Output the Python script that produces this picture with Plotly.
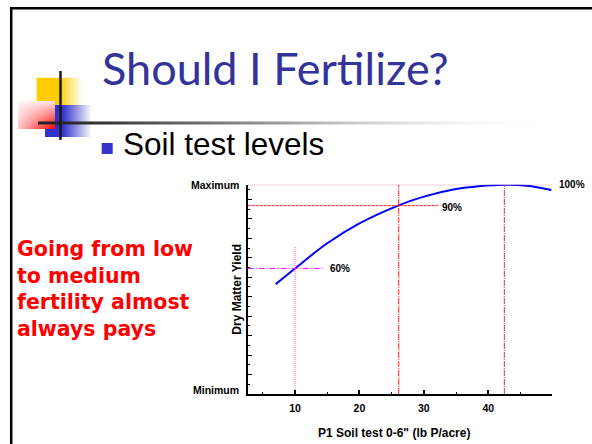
import plotly.graph_objects as go

# P soil test (lb P/acre) vs relative dry matter yield (% of maximum)
soil_p = [7, 10, 15, 20, 26, 30, 35, 38.5, 42.5, 46, 49.8]
yield_pct = [52.5, 60, 72, 81.5, 90, 94.3, 97.9, 99.3, 100, 99.5, 97.5]

# guide lines: yield level, soil test where it is reached, how far each line runs
ref_pct = [60, 90, 100]
ref_soil = [10, 26.1, 42.5]
ref_hline_end = [14.4, 32.2, 49.9]
ref_vline_top = [70.7, 100, 100]
ref_labels = ["60%", "90%", "100%"]
ref_label_x = [15.1, 32.5, 50.7]
ref_label_y = [60, 89, 100]

x_tick_labels = ["10", "20", "30", "40"]
y_end_labels = ["Minimum", "Maximum"]
y_end_vals = [0, 100]

title_text = "Should I Fertilize?"
bullet_text = "Soil test levels"
side_note = ["Going from low", "to medium", "fertility almost", "always pays"]

W, H = 592, 444
X_RANGE = [2.65, 49.9]
X_DOM = [247.7 / W, 552 / W]
BOLD = dict(family="Liberation Sans, Arial, sans-serif", color="black", weight="bold")

fig = go.Figure()

# ---- slide decorations on a pixel-coordinate overlay axis
def box(x0, x1, y0, y1):
    return [x0, x1, x1, x0, x0], [y0, y0, y1, y1, y0]

deco = [
    # (x0, x1, y0, y1, gradient type, colorscale)
    (36.7, 82, 77.7, 106, "horizontal",
     [[0, "#FFCC00"], [0.5, "#FFCC00"], [1, "rgba(255,204,0,0)"]]),
    (45, 92, 105, 137, "horizontal",
     [[0, "#3333CC"], [0.38, "#3333CC"], [1, "rgba(51,51,204,0)"]]),
    (18, 55, 101, 129, "horizontal",
     [[0, "rgb(255,200,200)"], [1, "#FF0000"]]),
    (18, 55, 101, 129, "vertical",
     [[0, "rgba(255,255,255,0)"], [1, "rgba(255,255,255,0.88)"]]),
    (38, 563, 121.6, 124.6, "horizontal",
     [[0, "#222222"], [0.12, "#333333"], [0.5, "#aaaaaa"], [1, "rgba(255,255,255,0)"]]),
]
for x0, x1, y0, y1, gtype, cs in deco:
    bx, by = box(x0, x1, y0, y1)
    fig.add_trace(go.Scatter(
        x=bx, y=by, xaxis="x2", yaxis="y2", mode="lines", line=dict(width=0),
        fill="toself", fillgradient=dict(type=gtype, colorscale=cs),
        hoverinfo="skip", showlegend=False,
    ))

# ---- curve and guide lines
fig.add_trace(go.Scatter(
    x=soil_p, y=yield_pct, mode="lines", line=dict(color="#0000FF", width=2, shape="spline"),
    showlegend=False,
))

h_styles = [("#FF00FF", "6px,2px,1px,2px"), ("#FF2020", "3px,1px"), ("#B03030", "1px,1px")]
v_styles = [("#FF40FF", "1px,1px"), ("#FF2020", "6px,1px,1px,1px"), ("#B04848", "6px,1px,1px,1px")]


def x_paper(v):
    return X_DOM[0] + (v - X_RANGE[0]) / (X_RANGE[1] - X_RANGE[0]) * (X_DOM[1] - X_DOM[0])


for i, p in enumerate(ref_pct):
    fig.add_trace(go.Scatter(
        x=[X_RANGE[0], ref_hline_end[i]], y=[p, p], mode="lines",
        line=dict(color=h_styles[i][0], width=1, dash=h_styles[i][1]), showlegend=False,
    ))
    fig.add_trace(go.Scatter(
        x=[ref_soil[i], ref_soil[i]], y=[0, ref_vline_top[i]], mode="lines",
        line=dict(color=v_styles[i][0], width=1, dash=v_styles[i][1]), showlegend=False,
    ))
    fig.add_annotation(x=x_paper(ref_label_x[i]), xref="paper", y=ref_label_y[i], yref="y",
                       text=ref_labels[i], showarrow=False,
                       xanchor="left", yanchor="middle", font=dict(BOLD, size=10))

# y end labels
for val, lab, shift in zip(y_end_vals, y_end_labels, [4, 0]):
    fig.add_annotation(x=241 / W, xref="paper", y=val, yref="y", text=lab, showarrow=False,
                       xanchor="right", yanchor="middle", yshift=shift, font=dict(BOLD, size=10.5))

# axis titles
fig.add_annotation(x=394 / W, y=(H - 432.7) / H, xref="paper", yref="paper",
                   text='P1 Soil test 0-6" (lb P/acre)', showarrow=False,
                   xanchor="center", yanchor="middle", font=dict(BOLD, size=12))
fig.add_annotation(x=237 / W, y=(H - 289.7) / H, xref="paper", yref="paper",
                   text="Dry Matter Yield", textangle=-90, showarrow=False,
                   xanchor="center", yanchor="middle", font=dict(BOLD, size=12))

# slide text
fig.add_annotation(x=100, y=68, xref="x2", yref="y2", text=title_text, showarrow=False,
                   xanchor="left", yanchor="middle",
                   font=dict(family="Lato, Liberation Sans, sans-serif",
                             size=45, color="#333399"))
fig.add_annotation(x=121, y=144, xref="x2", yref="y2", text=bullet_text, showarrow=False,
                   xanchor="left", yanchor="middle",
                   font=dict(family="Liberation Sans, Arial, sans-serif", size=31.5, color="black"))
fig.add_annotation(x=15, y=289, xref="x2", yref="y2", text="<br>".join(side_note),
                   showarrow=False, xanchor="left", yanchor="middle", align="left",
                   font=dict(family="DejaVu Sans, Verdana, sans-serif", size=20.5,
                             color="#FF0000", weight="bold"))

# solid decoration pieces
shapes = [
    dict(type="rect", x0=101.7, x1=112.7, y0=143, y1=154, fillcolor="#3333CC"),
    dict(type="line", x0=60.5, x1=60.5, y0=71, y1=140, line=dict(color="#1a1a1a", width=2.5)),
    dict(type="line", x0=10, x1=W, y0=8.3, y1=8.3, line=dict(color="black", width=2.5)),
    dict(type="line", x0=11.2, x1=11.2, y0=7, y1=H, line=dict(color="black", width=2.5)),
]
for s in shapes:
    s.setdefault("line", dict(width=0))
    fig.add_shape(xref="x2", yref="y2", layer="above", **s)

fig.update_layout(
    width=W, height=H,
    margin=dict(l=0, r=0, t=0, b=0),
    paper_bgcolor="white", plot_bgcolor="rgba(0,0,0,0)",
    xaxis=dict(
        domain=X_DOM, range=X_RANGE, anchor="y",
        showline=True, linecolor="black", linewidth=2, showgrid=False, zeroline=False,
        tickmode="array", tickvals=[10, 20, 30, 40], ticktext=x_tick_labels,
        ticks="inside", ticklen=4, tickwidth=1.5, tickcolor="black",
        minor=dict(ticks="inside", tick0=0, dtick=5, ticklen=2, tickcolor="black", tickwidth=1),
        tickfont=dict(BOLD, size=10.5), ticklabelstandoff=3,
    ),
    yaxis=dict(
        domain=[50 / H, (H - 184.7) / H], range=[0, 100], anchor="x",
        showline=True, linecolor="black", linewidth=2, showgrid=False, zeroline=False,
        tickmode="linear", tick0=0, dtick=9.3, ticks="inside", ticklen=4, tickwidth=1.2,
        tickcolor="black", showticklabels=False,
        minor=dict(ticks="inside", tick0=0, dtick=4.65, ticklen=2, tickcolor="black", tickwidth=1),
    ),
    xaxis2=dict(domain=[0, 1], range=[0, W], anchor="y2", visible=False, fixedrange=True),
    yaxis2=dict(domain=[0, 1], range=[H, 0], anchor="x2", visible=False, fixedrange=True),
)

# the slide fills the whole window, so drop the page's default body margin
fig.write_html("out.html", config={"displayModeBar": False},
               post_script="document.body.style.margin='0';")
